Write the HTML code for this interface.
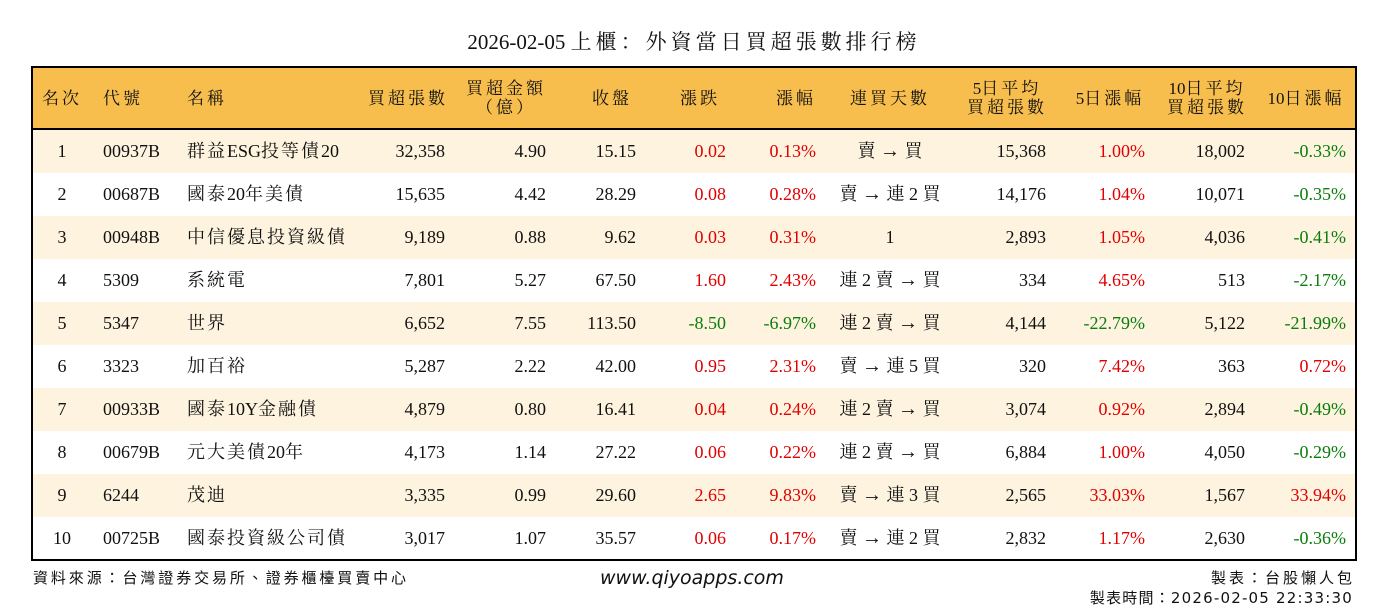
<!DOCTYPE html>
<html><head><meta charset="utf-8"><style>
body{margin:0;width:1388px;height:612px;background:#fff;position:relative;overflow:hidden;font-family:"Liberation Serif","Noto Serif CJK SC",serif;color:#111}
.t{position:absolute;white-space:nowrap}
#box{position:absolute;left:31px;top:66px;width:1322px;height:491px;border:2px solid #000}
#hd{position:absolute;left:33px;top:68px;width:1322px;height:60px;background:#f7be4e;border-bottom:2px solid #000}
.row{position:absolute;left:33px;width:1322px;height:43px}
.h{font-size:17px;line-height:19px;text-align:center}
.c{font-size:18px;line-height:43px}
.r{color:#e00000}.g{color:#0a7d0a}
.ar{font-family:"Liberation Serif",serif;font-size:20px}
</style></head><body>
<div class="t" style="left:0;width:1388px;top:28px;text-align:center;font-size:21px;line-height:28px">2026-02-05 <span style="letter-spacing:4px">上櫃：外資當日買超張數排行榜</span></div>
<div id="hd"></div>
<div id="box"></div>
<div id="rows"></div>
<div class="t" style="left:33px;top:567px;font-size:15px;font-family:'Noto Sans CJK TC',sans-serif;letter-spacing:2.9px">資料來源：台灣證券交易所、證券櫃檯買賣中心</div>
<div class="t" style="left:600px;top:567px;font-size:19px;font-style:italic;font-family:'DejaVu Sans',sans-serif">www.qiyoapps.com</div>
<div class="t" style="right:33px;top:567px;font-size:15px;font-family:'Noto Sans CJK TC',sans-serif;letter-spacing:3px">製表：台股懶人包</div>
<div class="t" style="right:35px;top:587px;font-size:15px;font-family:'DejaVu Sans','Noto Sans CJK TC',sans-serif;letter-spacing:1.2px">製表時間：2026-02-05 22:33:30</div>
<script>
const cj=(t,n)=>t.replace(/([\u4e00-\u9fff（）]+)/g,`<span style="letter-spacing:${n}px">$1</span>`);
const H=[["名次",62,"c"],["代號",103,"l"],["名稱",187,"l"],["買超張數",448,"r"],["買超金額<br>（億）",506,"c"],["收盤",612,"c"],["漲跌",700,"c"],["漲幅",796,"c"],["連買天數",890,"c"],["5日平均<br>買超張數",1007,"c"],["5日漲幅",1110,"c"],["10日平均<br>買超張數",1207,"c"],["10日漲幅",1306,"c"]];
let s="";
for(const [t0,x,a] of H){const t=cj(t0,3);const two=t0.includes("<br>");const top=two?79:89;
 if(a=="c")s+=`<div class="t h" style="left:${x-60}px;width:120px;top:${top}px">${t}</div>`;
 else if(a=="l")s+=`<div class="t h" style="left:${x}px;top:${top}px">${t}</div>`;
 else s+=`<div class="t h" style="right:${1388-x}px;top:${top}px">${t}</div>`;}
const D=[
["1","00937B","群益ESG投等債20","32,358","4.90","15.15","0.02","0.13%","賣 → 買","15,368","1.00%","18,002","-0.33%"],
["2","00687B","國泰20年美債","15,635","4.42","28.29","0.08","0.28%","賣 → 連 2 買","14,176","1.04%","10,071","-0.35%"],
["3","00948B","中信優息投資級債","9,189","0.88","9.62","0.03","0.31%","1","2,893","1.05%","4,036","-0.41%"],
["4","5309","系統電","7,801","5.27","67.50","1.60","2.43%","連 2 賣 → 買","334","4.65%","513","-2.17%"],
["5","5347","世界","6,652","7.55","113.50","-8.50","-6.97%","連 2 賣 → 買","4,144","-22.79%","5,122","-21.99%"],
["6","3323","加百裕","5,287","2.22","42.00","0.95","2.31%","賣 → 連 5 買","320","7.42%","363","0.72%"],
["7","00933B","國泰10Y金融債","4,879","0.80","16.41","0.04","0.24%","連 2 賣 → 買","3,074","0.92%","2,894","-0.49%"],
["8","00679B","元大美債20年","4,173","1.14","27.22","0.06","0.22%","連 2 賣 → 買","6,884","1.00%","4,050","-0.29%"],
["9","6244","茂迪","3,335","0.99","29.60","2.65","9.83%","賣 → 連 3 買","2,565","33.03%","1,567","33.94%"],
["10","00725B","國泰投資級公司債","3,017","1.07","35.57","0.06","0.17%","賣 → 連 2 買","2,832","1.17%","2,630","-0.36%"]];
const R=[445,546,636,726,816,null,1046,1145,1245,1346];
D.forEach((d,i)=>{const y=130+43*i;
 if(i%2==0)s+=`<div class="row" style="top:${y}px;background:#fdf3df"></div>`;
 s+=`<div class="t c" style="left:32px;width:60px;text-align:center;top:${y}px">${d[0]}</div>`;
 s+=`<div class="t c" style="left:103px;top:${y}px">${d[1]}</div>`;
 s+=`<div class="t c" style="left:187px;top:${y}px">${cj(d[2],2)}</div>`;
 for(let k=3;k<13;k++){const x=R[k-3];let cls="";
  if(k==6||k==7||k==10||k==12){cls=d[k].startsWith("-")?"g":"r";}
  if(k==8)s+=`<div class="t c" style="left:830px;width:120px;text-align:center;top:${y}px">${d[k].replace("→",'<span class="ar">→</span>')}</div>`;
  else s+=`<div class="t c ${cls}" style="right:${1388-x}px;top:${y}px">${d[k]}</div>`;}
});
document.getElementById("rows").innerHTML=s;
</script>
</body></html>
